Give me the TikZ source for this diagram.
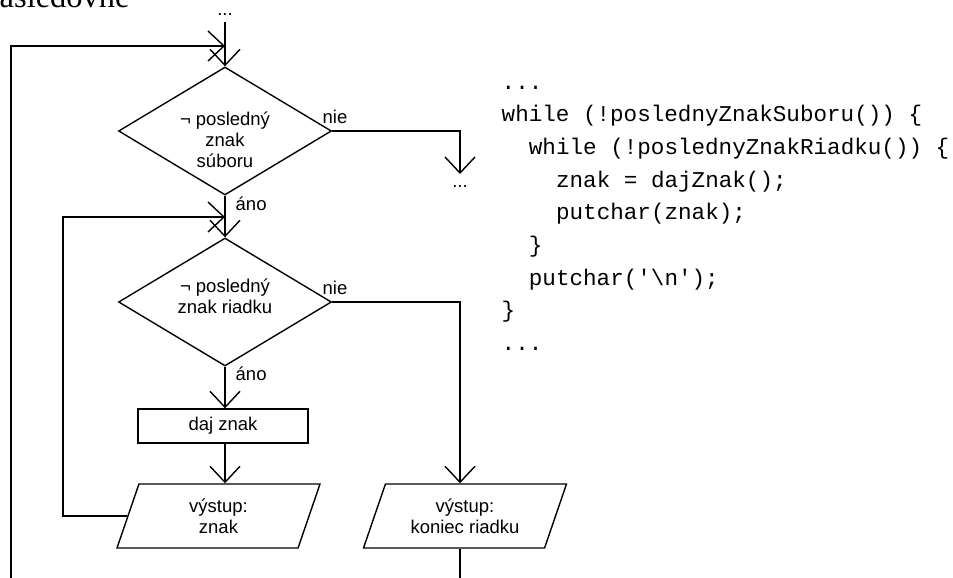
\documentclass[tikz,border=0pt]{standalone}
\usepackage{fontspec}
\setmainfont{Liberation Sans}
\newfontfamily\codefont{Liberation Mono}
\newfontfamily\titlefont{Liberation Serif}
\usetikzlibrary{shapes.geometric,arrows.meta}
\newcommand\flowfont{\fontsize{18.5}{21.3}\selectfont}
\begin{document}
\begin{tikzpicture}[x=1pt,y=-1pt, line width=1.4pt,
  arr/.style={-{Straight Barb[length=16pt,width=30pt]}},
  dec/.style={draw, shape=diamond, minimum width=213pt, minimum height=128pt, inner sep=0pt},
  io/.style={draw, trapezium, trapezium left angle=58, trapezium right angle=122,
             trapezium stretches body, minimum width=203pt, minimum height=64pt,
             inner sep=0pt, align=center, font=\flowfont},
  lbl/.style={font=\flowfont, inner sep=0pt},
  code/.style={anchor=base west, inner sep=0pt, font=\codefont\fontsize{22.6}{26}\selectfont}]
\useasboundingbox (0,0) rectangle (953,578);

% partially visible heading
\node[anchor=base west, inner sep=0pt, font=\titlefont\fontsize{32.5}{36}\selectfont] (title) at (-1,7.3) {asledovne};

% flowchart
\node[lbl, anchor=south, text depth=6pt] (topdots) at (225,22) {...};
\coordinate (j1) at (225,46);
\node[dec] (d1) at (225,131) {};
\node[lbl, align=center] (d1t) at (225,139.6) {¬ posledný\\znak\\súboru};
\node[lbl, anchor=base west] (nie1) at (322,123) {nie};
\node[lbl, anchor=base west] (ano1) at (235,210) {áno};
\node[lbl, anchor=north, text height=13pt] (rdots) at (460,174) {...};

\coordinate (j2) at (225,217);
\coordinate (lx) at (63,217);
\node[dec] (d2) at (225,302) {};
\node[lbl, align=center] (d2t) at (225,296) {¬ posledný\\znak riadku};
\node[lbl, anchor=base west] (nie2) at (322,294) {nie};
\node[lbl, anchor=base west] (ano2) at (235,380) {áno};

\node[draw, minimum width=170pt, minimum height=34pt, inner sep=0pt, font=\flowfont] (r) at (223,426) {daj znak};
\node[io] (p1) at (218.5,516) {výstup:\\znak};
\node[io] (p2) at (465,516) {výstup:\\koniec riadku};

\coordinate (obot) at (11,578);
\coordinate (rcol) at (460,578);

\draw[arr] (topdots.south) -- (d1.north);
\draw[arr] (obot) |- (j1);
\draw[arr] (d1.east) -| (rdots.north);
\draw[arr] (d1.south) -- (d2.north);
\draw[arr] (p1.left side) -| (lx) -- (j2);
\draw[arr] (d2.east) -| (rcol |- p2.north);
\draw[arr] (d2.south) -- (d2.south |- r.north);
\draw[arr] (r.south -| d2.south) -- (d2.south |- p1.north);
\draw (rcol |- p2.south) -- (rcol);

% code
\node[code] (c1) at (501,89) {...};
\node[code] (c2) at (501,121.7) {while (!poslednyZnakSuboru()) \{};
\node[code] (c3) at (528.2,154.4) {while (!poslednyZnakRiadku()) \{};
\node[code] (c4) at (555.4,187.1) {znak = dajZnak();};
\node[code] (c5) at (555.4,219.8) {putchar(znak);};
\node[code] (c6) at (528.2,252.5) {\}};
\node[code] (c7) at (528.2,285.2) {putchar('\textbackslash n');};
\node[code] (c8) at (501,317.9) {\}};
\node[code] (c9) at (501,350.6) {...};
\end{tikzpicture}
\end{document}
